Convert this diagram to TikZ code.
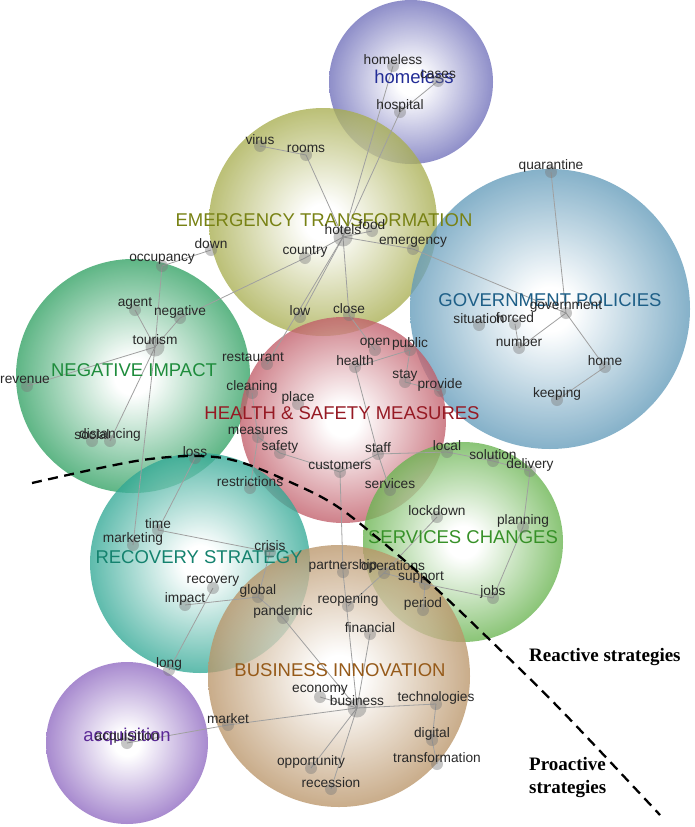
\documentclass[tikz,border=0pt]{standalone}
\usepackage{fontspec}
\setmainfont{Liberation Sans}
\newfontfamily\timesf{Liberation Serif}
\pgfdeclarelayer{bg}
\pgfdeclarelayer{edges}
\pgfsetlayers{bg,edges,main}
\pgfdeclareradialshading{shHome}{\pgfpoint{0bp}{0bp}}{rgb(0bp)=(1,1,1); rgb(4bp)=(1,1,1); rgb(25bp)=(0.435,0.435,0.729); rgb(50bp)=(0.435,0.435,0.729)}
\pgfdeclareradialshading{shEmerg}{\pgfpoint{0bp}{0bp}}{rgb(0bp)=(1,1,1); rgb(4bp)=(1,1,1); rgb(25bp)=(0.659,0.682,0.314); rgb(50bp)=(0.659,0.682,0.314)}
\pgfdeclareradialshading{shGov}{\pgfpoint{0bp}{0bp}}{rgb(0bp)=(1,1,1); rgb(4bp)=(1,1,1); rgb(25bp)=(0.388,0.608,0.729); rgb(50bp)=(0.388,0.608,0.729)}
\pgfdeclareradialshading{shNeg}{\pgfpoint{0bp}{0bp}}{rgb(0bp)=(1,1,1); rgb(4bp)=(1,1,1); rgb(25bp)=(0.192,0.631,0.388); rgb(50bp)=(0.192,0.631,0.388)}
\pgfdeclareradialshading{shHS}{\pgfpoint{0bp}{0bp}}{rgb(0bp)=(1,1,1); rgb(4bp)=(1,1,1); rgb(25bp)=(0.757,0.365,0.412); rgb(50bp)=(0.757,0.365,0.412)}
\pgfdeclareradialshading{shServ}{\pgfpoint{0bp}{0bp}}{rgb(0bp)=(1,1,1); rgb(4bp)=(1,1,1); rgb(25bp)=(0.412,0.706,0.314); rgb(50bp)=(0.412,0.706,0.314)}
\pgfdeclareradialshading{shRec}{\pgfpoint{0bp}{0bp}}{rgb(0bp)=(1,1,1); rgb(4bp)=(1,1,1); rgb(25bp)=(0.192,0.659,0.584); rgb(50bp)=(0.192,0.659,0.584)}
\pgfdeclareradialshading{shBus}{\pgfpoint{0bp}{0bp}}{rgb(0bp)=(1,1,1); rgb(4bp)=(1,1,1); rgb(25bp)=(0.729,0.584,0.412); rgb(50bp)=(0.729,0.584,0.412)}
\pgfdeclareradialshading{shAcq}{\pgfpoint{0bp}{0bp}}{rgb(0bp)=(1,1,1); rgb(4bp)=(1,1,1); rgb(25bp)=(0.561,0.412,0.757); rgb(50bp)=(0.561,0.412,0.757)}
\definecolor{wordcol}{RGB}{40,40,40}
\definecolor{edgecol}{RGB}{160,160,160}
\definecolor{dotcol}{RGB}{120,120,120}
\definecolor{cHome}{RGB}{35,45,150}
\definecolor{cEmerg}{RGB}{120,130,20}
\definecolor{cGov}{RGB}{30,95,135}
\definecolor{cNeg}{RGB}{30,140,60}
\definecolor{cHS}{RGB}{150,25,35}
\definecolor{cServ}{RGB}{55,145,40}
\definecolor{cRec}{RGB}{20,130,110}
\definecolor{cBus}{RGB}{150,90,25}
\definecolor{cAcq}{RGB}{90,40,150}
\tikzset{
  bubble/.style={opacity=0.78},
  dot/.style={circle, fill=dotcol, fill opacity=0.42, draw=none, minimum size=12pt, inner sep=0pt},
  bigdot/.style={dot, minimum size=19pt},
  wlbl/.style={inner sep=0pt, text=wordcol, font=\fontsize{13.7}{15}\selectfont},
  biglbl/.style={inner sep=0pt, font=\fontsize{18.5}{21}\selectfont},
  edge/.style={draw=edgecol, line width=0.8pt},
  divider/.style={line width=2.3pt, dash pattern=on 10pt off 6.5pt},
  stratlbl/.style={inner sep=0pt, font=\timesf\bfseries\fontsize{19}{23}\selectfont, align=left}
}
\newcommand\W[5][0pt]{\node[dot] (#2) at (#3,#4) {}; \node[wlbl, xshift=#1] (#2t) at (#3,#4-6.5) {#5};}
\newcommand\WB[5][0pt]{\node[bigdot] (#2) at (#3,#4) {}; \node[wlbl, xshift=#1] (#2t) at (#3,#4-7) {#5};}
\begin{document}
\begin{tikzpicture}[x=1pt, y=-1pt]
\useasboundingbox (0,0) rectangle (694,827);
\begin{pgfonlayer}{bg}
  \shade[shading=shHome, bubble] (411,82) circle[radius=82pt];
  \shade[shading=shEmerg, bubble] (323,222) circle[radius=114pt];
  \shade[shading=shGov, bubble] (550,309) circle[radius=140pt];
  \shade[shading=shNeg, bubble] (133,376) circle[radius=117pt];
  \shade[shading=shHS, bubble] (343,420) circle[radius=103pt];
  \shade[shading=shServ, bubble] (463,542) circle[radius=100pt];
  \shade[shading=shRec, bubble] (200,563) circle[radius=110pt];
  \shade[shading=shBus, bubble] (339,676) circle[radius=131pt];
  \shade[shading=shAcq, bubble] (127,743) circle[radius=81pt];
\end{pgfonlayer}

% cluster labels
\node[biglbl, text=cHome] (lHome) at (414,77) {homeless};
\node[biglbl, text=cEmerg] (lEmerg) at (324,220) {EMERGENCY TRANSFORMATION};
\node[biglbl, text=cGov] (lGov) at (550,300) {GOVERNMENT POLICIES};
\node[biglbl, text=cNeg] (lNeg) at (134,370) {NEGATIVE IMPACT};
\node[biglbl, text=cHS] (lHS) at (342,413) {HEALTH \& SAFETY MEASURES};
\node[biglbl, text=cServ] (lServ) at (463,537) {SERVICES CHANGES};
\node[biglbl, text=cRec] (lRec) at (199,557) {RECOVERY STRATEGY};
\node[biglbl, text=cBus] (lBus) at (340,670) {BUSINESS INNOVATION};
\node[biglbl, text=cAcq] (lAcq) at (127,737) {acquisition};

% words: homeless
\W{homelessw}{393}{66}{homeless}
\W{cases}{438}{81}{cases}
\W{hospital}{400}{112}{hospital}
% emergency
\W{virus}{260}{146}{virus}
\W{rooms}{306}{155}{rooms}
\WB{hotels}{343}{237}{hotels}
\W{food}{372}{231}{food}
\W{emergency}{413}{249}{emergency}
\W{country}{305}{258}{country}
\W{down}{211}{250}{down}
\W{low}{300}{317}{low}
\W{close}{349}{315}{close}
% government
\W{quarantine}{551}{172}{quarantine}
\W{government}{566}{313}{government}
\W{situation}{479}{325}{situation}
\W{forced}{515}{324}{forced}
\W{number}{519}{348}{number}
\W{home}{605}{367}{home}
\W{keeping}{557}{400}{keeping}
% negative impact
\W{occupancy}{162}{266}{occupancy}
\W{agent}{135}{310}{agent}
\W{negative}{180}{318}{negative}
\WB{tourism}{155}{347}{tourism}
\W[-2pt]{revenue}{27}{386}{revenue}
\W{social}{92}{441}{social}
\W{distancing}{110}{441}{distancing}
\W{loss}{195}{458}{loss}
% health & safety
\W{open}{375}{350}{open}
\W{public}{410}{350}{public}
\W{health}{355}{367}{health}
\W[-14pt]{restaurant}{267}{364}{restaurant}
\W{cleaning}{252}{393}{cleaning}
\W{place}{298}{404}{place}
\W{stay}{405}{382}{stay}
\W{provide}{440}{391}{provide}
\W{measures}{258}{437}{measures}
\W{safety}{280}{453}{safety}
\W{staff}{378}{454}{staff}
\W{local}{447}{452}{local}
\W{customers}{340}{472}{customers}
\W{services}{390}{490}{services}
\W{restrictions}{250}{488}{restrictions}
% services changes
\W{solution}{493}{461}{solution}
\W{delivery}{530}{471}{delivery}
\W{lockdown}{437}{517}{lockdown}
\W{planning}{523}{527}{planning}
\W{partnership}{343}{572}{partnership}
\W[9pt]{operations}{384}{573}{operations}
\W[-4pt]{support}{425}{584}{support}
\W{period}{423}{610}{period}
\W{jobs}{493}{598}{jobs}
% recovery
\W{time}{158}{530}{time}
\W{marketing}{133}{545}{marketing}
\W{crisis}{270}{552}{crisis}
\W{recovery}{213}{588}{recovery}
\W{global}{258}{597}{global}
\W{impact}{185}{605}{impact}
\W{pandemic}{283}{618}{pandemic}
\W{long}{169}{670}{long}
% business
\W{reopening}{348}{606}{reopening}
\W{financial}{370}{634}{financial}
\W{economy}{320}{697}{economy}
\WB{business}{357}{708}{business}
\W{technologies}{436}{704}{technologies}
\W{digital}{432}{740}{digital}
\W{transformation}{437}{764}{transformation}
\W{market}{228}{725}{market}
\W{opportunity}{311}{768}{opportunity}
\W{recession}{331}{789}{recession}
% acquisition
\W{acqw}{127}{743}{acquisition}

\begin{pgfonlayer}{edges}
\foreach \a/\b in {virus/rooms, rooms/hotels, hotels/homelessw, hotels/hospital, hospital/cases,
  hotels/food, hotels/emergency, emergency/government, hotels/country, country/negative,
  down/occupancy, hotels/low, hotels/restaurant, hotels/close, close/open, health/public,
  public/stay, stay/provide, health/staff, staff/services, staff/customers, staff/local,
  local/solution, solution/delivery, delivery/planning, planning/jobs, jobs/support,
  support/operations, support/period, lockdown/operations, operations/reopening,
  customers/safety, safety/measures, measures/restrictions, cleaning/measures,
  customers/partnership, partnership/business, financial/business, pandemic/business,
  economy/business, business/technologies, technologies/digital, digital/transformation,
  business/market, market/acqw, business/opportunity, business/recession,
  global/pandemic, crisis/global, time/crisis, loss/time, impact/global, recovery/long,
  tourism/marketing, tourism/occupancy, tourism/agent, tourism/negative, tourism/revenue,
  tourism/distancing, quarantine/government, government/number, number/forced,
  government/home, home/keeping}
  \draw[edge] (\a.center) -- (\b.center);
\end{pgfonlayer}

% reactive / proactive divider
\draw[divider] plot[smooth, tension=0.6] coordinates {(32,483) (100,468) (150,459) (200,456) (240,462) (290,482) (335,505) (380,540) (430,583) (490,640) (560,709) (660,815)};
\node[stratlbl, anchor=west] (reactive) at (529,657) {Reactive strategies};
\node[stratlbl, anchor=north west] (proactive) at (529,757) {Proactive\\strategies};
\end{tikzpicture}
\end{document}
